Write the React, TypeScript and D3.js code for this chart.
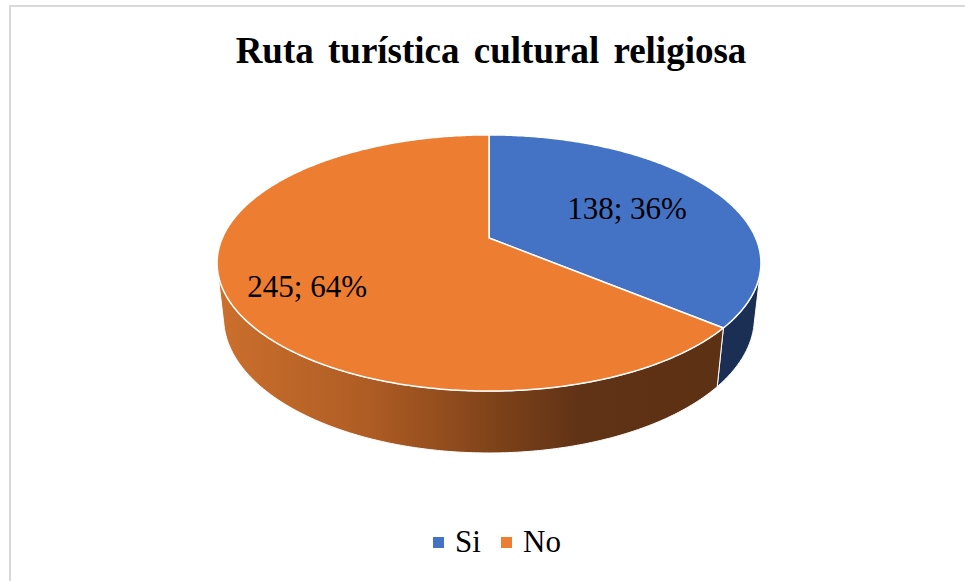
import React from 'react'
import * as d3 from 'd3'

// chart data
const categories = ['Si', 'No']
const values = [138, 245]
const topColors = ['#4472C4', '#ED7D31']
const title = 'Ruta turística cultural religiosa'

// projection of the tilted pie (unit radius, perspective)
const cx = 489
const cy = 238
const k = 266.7
const sinA = 0.462
const cosA = Math.sqrt(1 - sinA * sinA)
const D = 4.545
const H = 0.232

const serif = "'Liberation Serif', 'Times New Roman', serif"

const proj = (t: number, h: number, r = 1): [number, number] => {
    const x = r * Math.sin(t)
    const y = r * Math.cos(t)
    const u = y * sinA + h * cosA
    const d = y * cosA - h * sinA
    const s = D / (D + d)
    return [cx + k * x * s, cy - k * u * s]
}

const App = () => {
    const width = 965
    const height = 581
    const total = d3.sum(values)

    const pie = d3
        .pie<number>()
        .sort(null)
        .startAngle(0)
        .endAngle(2 * Math.PI)(values)

    const line = d3.line()

    // angles where the wall silhouette is
    const tL = Math.acos(-1 / (D * cosA))
    const tR = 2 * Math.PI - tL

    const arcPts = (a: number, b: number, h: number) => {
        const n = Math.max(2, Math.ceil(Math.abs(b - a) / 0.01))
        return d3.range(n + 1).map((i) => proj(a + ((b - a) * i) / n, h))
    }

    const walls = pie
        .map((p, i) => {
            const a = Math.max(p.startAngle, tL)
            const b = Math.min(p.endAngle, tR)
            if (b <= a) return null
            const pts = [...arcPts(a, b, 0), ...arcPts(b, a, -H)]
            return { i, d: line(pts) + 'Z' }
        })
        .filter((w) => w !== null) as { i: number; d: string }[]

    const tops = pie.map((p, i) => {
        const pts = [[cx, cy] as [number, number], ...arcPts(p.startAngle, p.endAngle, 0)]
        return { i, d: line(pts) + 'Z' }
    })

    const labelR = [0.6, 0.72]
    const labels = pie.map((p, i) => {
        const mid = (p.startAngle + p.endAngle) / 2
        const [x, y] = proj(mid, 0, labelR[i])
        const pct = d3.format('.0%')(values[i] / total)
        return { x: i === 1 ? x + 3 : x, y: i === 1 ? y + 8 : y, text: `${values[i]}; ${pct}` }
    })

    const legendX = [433, 501]

    return (
        <svg
            width={width}
            height={height}
            style={{ position: 'absolute', left: 0, top: 0, background: '#fff' }}
        >
            <defs>
                <linearGradient id="sideNo" gradientUnits="userSpaceOnUse" x1={220} y1={0} x2={722} y2={0}>
                    <stop offset="0" stopColor="#CB6F2D" />
                    <stop offset="0.3" stopColor="#AE5C24" />
                    <stop offset="0.55" stopColor="#7E4219" />
                    <stop offset="0.72" stopColor="#603216" />
                    <stop offset="1" stopColor="#5D3114" />
                </linearGradient>
            </defs>
            <rect x={10} y={6} width={1000} height={700} fill="none" stroke="#D9D9D9" strokeWidth={2} />

            <text
                x={491}
                y={63}
                textAnchor="middle"
                fontFamily={serif}
                fontWeight="bold"
                fontSize={37}
                wordSpacing={5}
                fill="#000"
            >
                {title}
            </text>

            {walls.map((w) => (
                <path
                    key={'w' + w.i}
                    d={w.d}
                    fill={w.i === 0 ? '#1B2F55' : 'url(#sideNo)'}
                    stroke="#fff"
                    strokeWidth={1}
                    strokeLinejoin="round"
                />
            ))}
            {tops.map((t) => (
                <path
                    key={'t' + t.i}
                    d={t.d}
                    fill={topColors[t.i]}
                    stroke="#fff"
                    strokeWidth={1.5}
                    strokeLinejoin="round"
                />
            ))}

            {labels.map((l, i) => (
                <text
                    key={'l' + i}
                    x={l.x}
                    y={l.y}
                    dy="0.35em"
                    textAnchor="middle"
                    fontFamily={serif}
                    fontSize={31}
                    fill="#000"
                >
                    {l.text}
                </text>
            ))}

            {categories.map((c, i) => (
                <g key={c} transform={`translate(${legendX[i]},537)`}>
                    <rect width={11} height={11} fill={topColors[i]} />
                    <text x={22} y={15} fontFamily={serif} fontSize={31} fill="#000">
                        {c}
                    </text>
                </g>
            ))}
        </svg>
    )
}

export default App
